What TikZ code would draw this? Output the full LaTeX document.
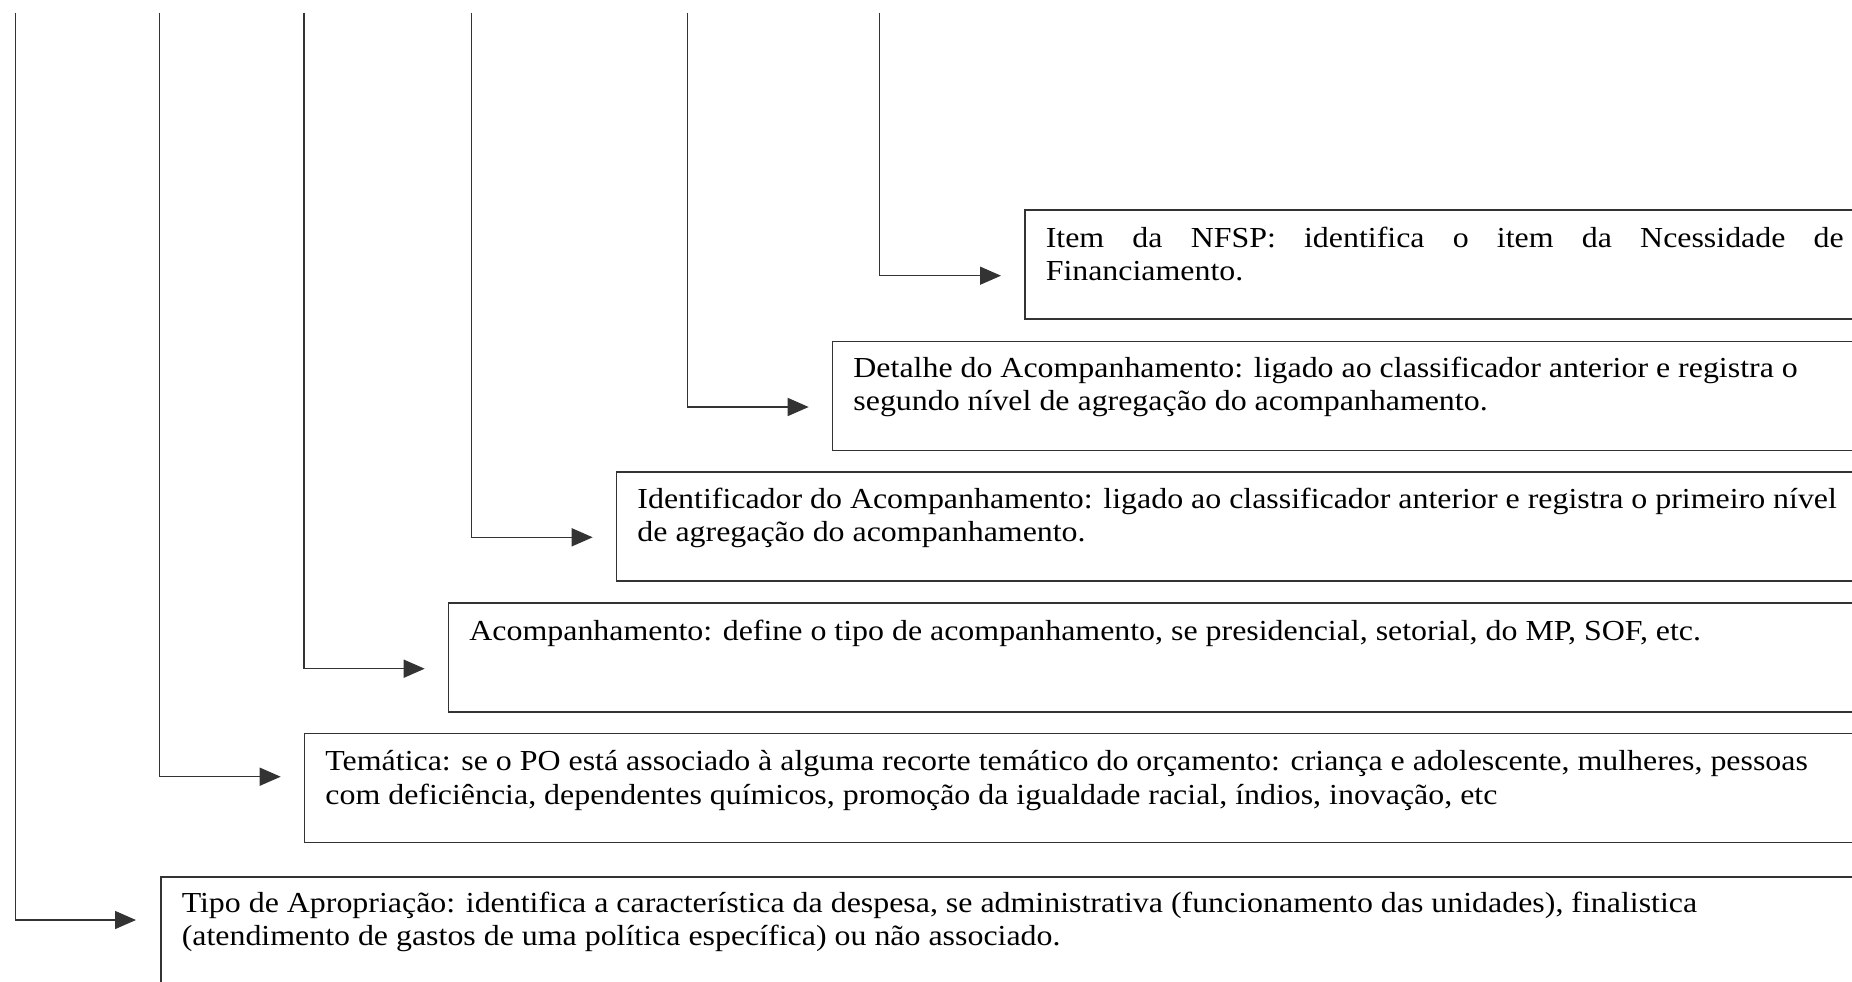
\documentclass[tikz,border=0pt]{standalone}
\usepackage{fontspec}
\setmainfont{Liberation Serif}[FakeStretch=1.1]
\usetikzlibrary{arrows.meta,calc}
\tikzset{
  BoxStyle/.style = { draw=black!80, line width=1.5pt, anchor=north west,
                      inner xsep=21pt, inner ysep=0pt,
                      font = \fontsize{29}{33.5}\selectfont },
  EdgeStyle/.style = { draw=black!80, line width=1.5pt,
                       -{Triangle[length=21pt,width=18pt]} } }

\begin{document}
\begin{tikzpicture}[x=1pt,y=-1pt]
  \useasboundingbox (0,0) rectangle (1852,982);
  \clip (0,0) rectangle (1852,982);
  \node[BoxStyle](item) at (1024,209.3){\parbox[t][109pt][t]{834pt}{\rule{0pt}{37pt}\makebox[798pt][s]{Item da NFSP: identifica o item da Ncessidade de}\\Financiamento.}};
  \node[BoxStyle](det) at (831.7,340.7){\parbox[t][109pt][t]{1026pt}{\rule{0pt}{36pt}Detalhe do Acompanhamento: ligado ao classificador anterior e registra o\\segundo nível de agregação do acompanhamento.}};
  \node[BoxStyle](idt) at (615.7,471.3){\parbox[t][109pt][t]{1242pt}{\rule{0pt}{36.4pt}Identificador do Acompanhamento: ligado ao classificador anterior e registra o primeiro nível\\de agregação do acompanhamento.}};
  \node[BoxStyle](acp) at (447.7,602.3){\parbox[t][109pt][t]{1410pt}{\rule{0pt}{37pt}Acompanhamento: define o tipo de acompanhamento, se presidencial, setorial, do MP, SOF, etc.}};
  \node[BoxStyle](tem) at (303.7,732.5){\parbox[t][109pt][t]{1554pt}{\rule{0pt}{37.5pt}Temática: se o PO está associado à alguma recorte temático do orçamento: criança e adolescente, mulheres, pessoas\\com deficiência, dependentes químicos, promoção da igualdade racial, índios, inovação, etc}};
  \node[BoxStyle](tipo) at (160,876){\parbox[t][109pt][t]{1698pt}{\rule{0pt}{35.7pt}Tipo de Apropriação: identifica a característica da despesa, se administrativa (funcionamento das unidades), finalistica\\(atendimento de gastos de uma política específica) ou não associado.}};
  % tops of the vertical lines
  \coordinate (sitem) at (879.5,12.7);
  \coordinate (sdet) at (687.5,12.7);
  \coordinate (sidt) at (471.7,12.7);
  \coordinate (sacp) at (304,12.7);
  \coordinate (stem) at (159.5,12.7);
  \coordinate (stipo) at (15.7,12.7);
  \draw[EdgeStyle] (sitem) |- ($(item.north west)+(-23,66.4)$);
  \draw[EdgeStyle] (sdet) |- ($(det.north west)+(-23,66.3)$);
  \draw[EdgeStyle] (sidt) |- ($(idt.north west)+(-23,66)$);
  \draw[EdgeStyle] (sacp) |- ($(acp.north west)+(-23,66.4)$);
  \draw[EdgeStyle] (stem) |- ($(tem.north west)+(-23,44.2)$);
  \draw[EdgeStyle] (stipo) |- ($(tipo.north west)+(-24,44)$);
\end{tikzpicture}
\end{document}
